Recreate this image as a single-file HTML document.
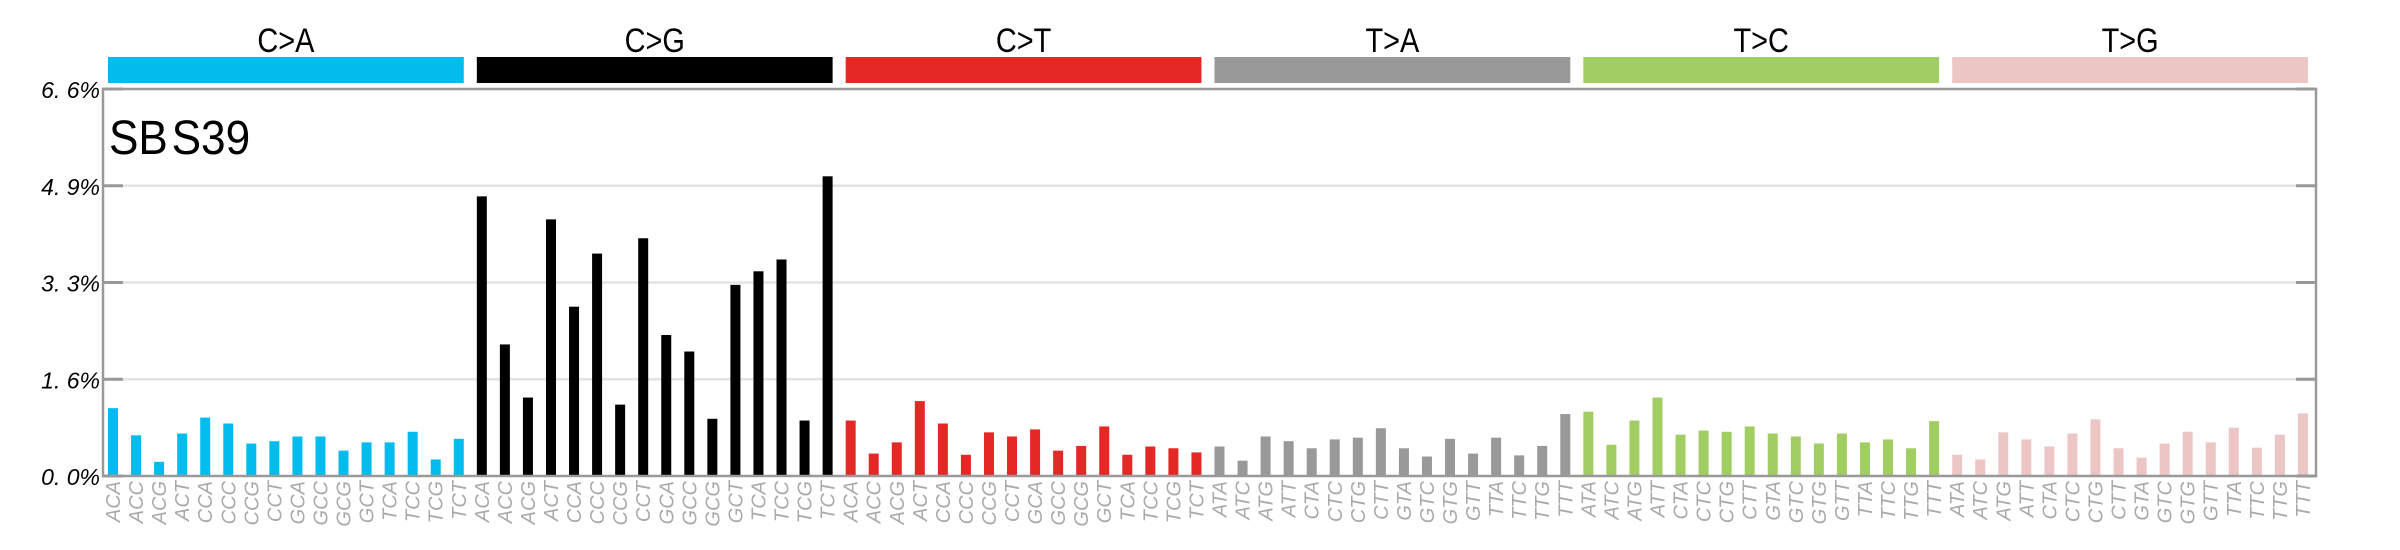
<!DOCTYPE html>
<html><head><meta charset="utf-8"><style>
html,body{margin:0;padding:0;background:#fff;}
svg{display:block;}
text{font-family:"Liberation Sans",sans-serif;}
</style></head><body>
<svg id="chart" width="2400" height="550" viewBox="0 0 2400 550" xmlns="http://www.w3.org/2000/svg">
<g id="grid"></g>
<g id="bars"></g>
<g id="frame"></g>
<g id="cats"></g>
<g id="yticks"></g>
<g id="xlabels"></g>
<text x="109" y="154" font-size="48" transform="translate(109 0) scale(0.92 1) translate(-109 0)">SB<tspan dx="4">S39</tspan></text>
</svg>
<script>
const categories = ["C>A","C>G","C>T","T>A","T>C","T>G"];
const catColors = ["#03BCEE","#000000","#E32926","#999999","#A1CE63","#EBC6C4"];
const cContexts = ["ACA","ACC","ACG","ACT","CCA","CCC","CCG","CCT","GCA","GCC","GCG","GCT","TCA","TCC","TCG","TCT"];
const tContexts = ["ATA","ATC","ATG","ATT","CTA","CTC","CTG","CTT","GTA","GTC","GTG","GTT","TTA","TTC","TTG","TTT"];
const valsCA = [1.15,0.69,0.24,0.72,0.99,0.89,0.55,0.59,0.67,0.67,0.43,0.57,0.57,0.75,0.28,0.63];
const valsCG = [4.74,2.23,1.33,4.35,2.87,3.77,1.21,4.03,2.39,2.11,0.97,3.24,3.47,3.67,0.94,5.08];
const valsCT = [0.94,0.38,0.57,1.27,0.89,0.36,0.74,0.67,0.79,0.43,0.51,0.84,0.36,0.50,0.47,0.40];
const valsTA = [0.50,0.26,0.67,0.59,0.47,0.62,0.65,0.81,0.47,0.33,0.63,0.38,0.65,0.35,0.51,1.05];
const valsTC = [1.09,0.53,0.94,1.33,0.70,0.77,0.75,0.84,0.72,0.67,0.55,0.72,0.57,0.62,0.47,0.93];
const valsTG = [0.36,0.28,0.74,0.62,0.50,0.72,0.96,0.47,0.31,0.55,0.75,0.57,0.82,0.48,0.70,1.06];
const yTickLabels = ["0. 0%","1. 6%","3. 3%","4. 9%","6. 6%"];
const yTickValues = [0,1.64,3.28,4.92,6.56];
const yMax = 6.56;

const NS="http://www.w3.org/2000/svg";
const L=103,R=2316,T=89,B=476;
const slot=(R-L)/96;
function x(i){return L+i*slot+5;}
function y(v){return B-(v/yMax)*(B-T);}
function mk(tag,attrs,parent){const e=document.createElementNS(NS,tag);for(const k in attrs)e.setAttribute(k,attrs[k]);parent.appendChild(e);return e;}
const allVals=[valsCA,valsCG,valsCT,valsTA,valsTC,valsTG];
const grid=document.getElementById('grid'),bars=document.getElementById('bars'),frame=document.getElementById('frame'),cats=document.getElementById('cats'),yt=document.getElementById('yticks'),xl=document.getElementById('xlabels');

yTickValues.forEach((v,k)=>{
  const yy=y(v);
  if(k>0&&k<4){
    const g=mk('line',{x1:L,x2:R,y1:yy,y2:yy,stroke:'#e3e3e3','stroke-width':2.5},grid);
    
    
  }
  const t1=mk('line',{x1:L,x2:L+20,y1:yy,y2:yy,stroke:'#999','stroke-width':3},yt);
  
  
  const t2=mk('line',{x1:R-20,x2:R,y1:yy,y2:yy,stroke:'#999','stroke-width':3},yt);
  
  
  const lb=mk('text',{x:100,y:yy+9,'text-anchor':'end','font-size':23,'font-style':'italic',fill:'#000'},yt);
  lb.textContent=yTickLabels[k];
  
  
});

categories.forEach((c,g)=>{
  const ctx=g<3?cContexts:tContexts;
  const x0=x(g*16), x1=x(g*16+15)+10;
  const hb=mk('rect',{x:x0,y:57,width:x1-x0,height:26,fill:catColors[g]},cats);
  
  
  const cx=(x0+x1)/2;
  const ht=mk('text',{x:0,y:0,'text-anchor':'middle','font-size':34,fill:'#000',transform:`translate(${cx} 52) scale(0.85 1)`},cats);
  ht.textContent=c;
  
  
  allVals[g].forEach((v,j)=>{
    const i=g*16+j;
    const r=mk('rect',{x:x(i),y:y(v),width:10,height:B-y(v),fill:catColors[g]},bars);
    
    
    const tx=x(i)+5+7;
    const lt=mk('text',{x:0,y:0,'text-anchor':'end','font-size':20,'font-style':'italic',fill:'#aaa',transform:`translate(${tx} 481) rotate(-90)`},xl);
    lt.textContent=ctx[j];
    
    
  });
});

const fr=mk('rect',{x:L,y:T,width:R-L,height:B-T,fill:'none',stroke:'#999','stroke-width':2.5},frame);


</script>
</body></html>
